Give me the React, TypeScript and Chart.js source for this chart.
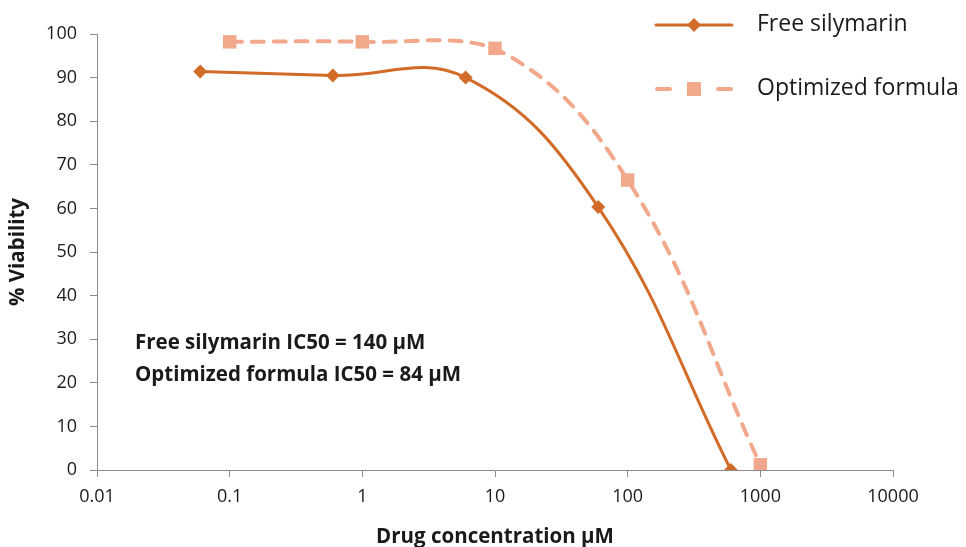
import React, { useEffect, useRef } from "react";
import { Chart, registerables } from "chart.js";

Chart.register(...registerables);

const FONT = "'Open Sans'";

const xTickValues = [0.01, 0.1, 1, 10, 100, 1000, 10000];
const xTickLabels = ["0.01", "0.1", "1", "10", "100", "1000", "10000"];

const freeConc = [0.06, 0.6, 6, 60, 600];
const freeViability = [91.4, 90.5, 90.0, 60.3, 0];

const optConc = [0.1, 1, 10, 100, 1000];
const optViability = [98.2, 98.2, 96.7, 66.5, 1.2];

const seriesNames = ["Free silymarin", "Optimized formula"];
const annotations = ["Free silymarin IC50 = 140 µM", "Optimized formula IC50 = 84 µM"];

const FREE_COLOR = "#D26B27";
const OPT_COLOR = "#F2A88B";
const AXIS_COLOR = "#8c8c8c";
const TEXT_COLOR = "#1a1a1a";

const overlayPlugin = {
  id: "overlay",
  afterDraw(chart: any) {
    const ctx = chart.ctx as CanvasRenderingContext2D;
    ctx.save();
    const rows = [
      { y: 25, color: FREE_COLOR, dash: [] as number[], width: 3, shape: "diamond" },
      { y: 89, color: OPT_COLOR, dash: [12, 10], width: 4, shape: "square" },
    ];
    rows.forEach((r, i) => {
      ctx.strokeStyle = r.color;
      ctx.fillStyle = r.color;
      ctx.lineWidth = r.width;
      ctx.lineCap = "round";
      ctx.setLineDash([]);
      ctx.beginPath();
      if (r.dash.length) {
        ctx.moveTo(657, r.y);
        ctx.lineTo(670, r.y);
        ctx.moveTo(718, r.y);
        ctx.lineTo(731, r.y);
      } else {
        ctx.moveTo(656, r.y);
        ctx.lineTo(732, r.y);
      }
      ctx.stroke();
      ctx.beginPath();
      if (r.shape === "diamond") {
        ctx.moveTo(694, r.y - 7);
        ctx.lineTo(701, r.y);
        ctx.lineTo(694, r.y + 7);
        ctx.lineTo(687, r.y);
        ctx.closePath();
      } else {
        ctx.rect(687, r.y - 7, 14, 14);
      }
      ctx.fill();
      ctx.fillStyle = TEXT_COLOR;
      ctx.font = `23px ${FONT}`;
      ctx.textAlign = "left";
      ctx.textBaseline = "middle";
      ctx.fillText(seriesNames[i], 757, r.y - 1);
    });
    ctx.font = `bold 20.5px ${FONT}`;
    ctx.fillStyle = TEXT_COLOR;
    ctx.textBaseline = "middle";
    ctx.fillText(annotations[0], 135, 343);
    ctx.fillText(annotations[1], 135, 375);
    ctx.restore();
  },
};

export default function App() {
  const ref = useRef<HTMLCanvasElement | null>(null);
  useEffect(() => {
    if (!ref.current) return;
    const chart = new Chart(ref.current, {
      type: "line",
      data: {
        datasets: [
          {
            label: seriesNames[0],
            data: freeConc.map((x, i) => ({ x, y: freeViability[i] })),
            borderColor: FREE_COLOR,
            backgroundColor: FREE_COLOR,
            borderWidth: 3,
            pointStyle: "rectRot",
            pointRadius: 7,
            pointBorderWidth: 0,
            tension: 0.4,
            borderCapStyle: "round",
          },
          {
            label: seriesNames[1],
            data: optConc.map((x, i) => ({ x, y: optViability[i] })),
            borderColor: OPT_COLOR,
            backgroundColor: OPT_COLOR,
            borderWidth: 4,
            borderDash: [12, 10],
            borderCapStyle: "round",
            pointStyle: "rect",
            pointRadius: 9.5,
            pointBorderWidth: 0,
            tension: 0.4,
          },
        ],
      },
      options: {
        animation: false,
        responsive: true,
        maintainAspectRatio: false,
        layout: { padding: { left: 0, right: 73, top: 34, bottom: 0 } },
        plugins: { legend: { display: false }, tooltip: { enabled: false } },
        scales: {
          x: {
            type: "logarithmic",
            min: 0.01,
            max: 10000,
            afterBuildTicks: (scale: any) => {
              scale.ticks = xTickValues.map((v) => ({ value: v }));
            },
            afterFit: (scale: any) => {
              scale.height = 77;
            },
            ticks: {
              autoSkip: false,
              maxRotation: 0,
              padding: 9,
              color: TEXT_COLOR,
              font: { family: FONT, size: 18 },
              callback: (v: any) => {
                const idx = xTickValues.indexOf(Number(v));
                return idx >= 0 ? xTickLabels[idx] : "";
              },
            },
            grid: { display: true, drawOnChartArea: false, drawTicks: true, tickLength: 7, color: AXIS_COLOR },
            border: { display: true, color: AXIS_COLOR, width: 1 },
            title: {
              display: true,
              text: "Drug concentration µM",
              color: TEXT_COLOR,
              font: { family: FONT, size: 20.5, weight: "bold" },
              padding: { top: 0, bottom: -2 },
            },
          },
          y: {
            min: 0,
            max: 100,
            afterFit: (scale: any) => {
              scale.width = 97;
            },
            ticks: {
              stepSize: 10,
              padding: 13,
              color: TEXT_COLOR,
              font: { family: FONT, size: 18 },
            },
            grid: { display: true, drawOnChartArea: false, drawTicks: true, tickLength: 7, color: AXIS_COLOR },
            border: { display: true, color: AXIS_COLOR, width: 1 },
            title: {
              display: true,
              text: "% Viability",
              color: TEXT_COLOR,
              font: { family: FONT, size: 20.5, weight: "bold" },
              padding: { top: 6, bottom: 0 },
            },
          },
        },
      },
      plugins: [overlayPlugin],
    } as any);
    return () => chart.destroy();
  }, []);
  return (
    <div style={{ position: "absolute", left: 0, top: 0, width: 966, height: 547, background: "#fff" }}>
      <canvas ref={ref} />
    </div>
  );
}
